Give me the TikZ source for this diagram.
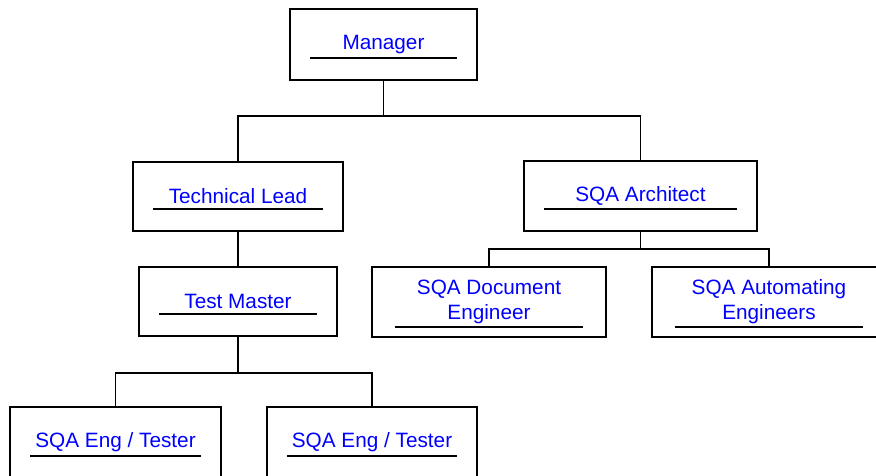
\documentclass[tikz,border=0pt]{standalone}
\usepackage{fontspec}
\setmainfont{Liberation Sans}
\usetikzlibrary{calc}

\begin{document}
\begin{tikzpicture}[x=1pt,y=1pt,line width=1.8pt,
  block/.style ={rectangle, draw=black, text=blue, inner sep=0pt, align=center,
    font=\fontsize{20.75}{25}\selectfont,
    path picture={\draw[line width=1.8pt] ([xshift=20pt,yshift=22pt]path picture bounding box.south west) -- ([xshift=-20pt,yshift=22pt]path picture bounding box.south east);}},
  blockb/.style ={block,
    path picture={\draw[line width=1.8pt] ([xshift=23pt,yshift=10pt]path picture bounding box.south west) -- ([xshift=-23pt,yshift=10pt]path picture bounding box.south east);}}]
\useasboundingbox (0,0) rectangle (876,-475);
\clip (0,0) rectangle (876,-475);
\draw (383.5,-44.5) node[block,minimum width=187,minimum height=71] (mgr) {Manager};
\draw (238,-196.5) node[block,minimum width=210,minimum height=69] (tl) {Technical Lead};
\draw (640.5,-196) node[block,minimum width=233,minimum height=70] (arch) {SQA Architect};
\draw (238,-301.5) node[block,minimum width=198,minimum height=69] (tm) {Test Master};
\draw (489,-302) node[blockb,minimum width=234,minimum height=70] (doc) {SQA Document\\Engineer};
\draw (769,-302) node[blockb,minimum width=234,minimum height=70] (auto) {SQA Automating\\Engineers};
\draw (115.5,-442.5) node[block,minimum width=211,minimum height=71] (eng1) {SQA Eng / Tester};
\draw (372,-442.5) node[block,minimum width=210,minimum height=71] (eng2) {SQA Eng / Tester};
% connectors
\draw (mgr.south) -- ++(0,-35) -| (tl.north);
\draw (mgr.south) -- ++(0,-35) -| (arch.north);
\draw (tl.south) -- (tm.north);
\draw (arch.south) -- ++(0,-17) -| (doc.north);
\draw (arch.south) -- ++(0,-17) -| (auto.north);
\draw (tm.south) -- ++(0,-36) -| (eng1.north);
\draw (tm.south) -- ++(0,-36) -| (eng2.north);
\end{tikzpicture}
\end{document}
